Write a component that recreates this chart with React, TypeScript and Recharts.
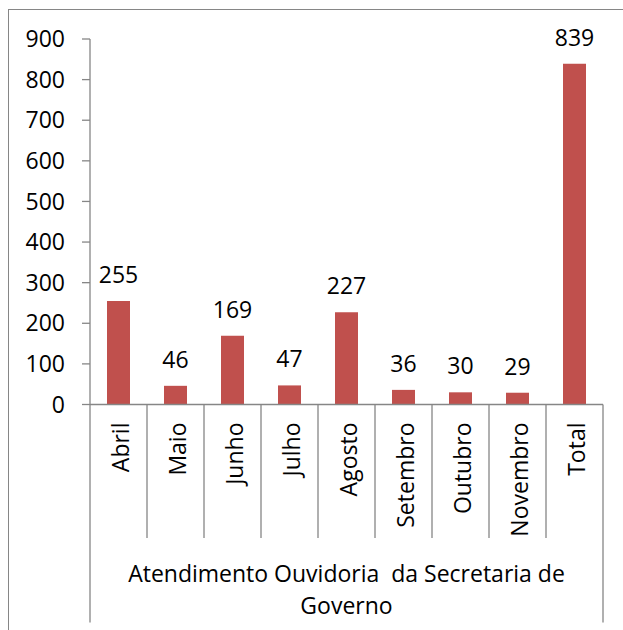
import { BarChart, Bar, XAxis, YAxis, LabelList } from 'recharts';

const meses = ['Abril', 'Maio', 'Junho', 'Julho', 'Agosto', 'Setembro', 'Outubro', 'Novembro', 'Total'];
const atendimentos = [255, 46, 169, 47, 227, 36, 30, 29, 839];
const yTicks = [0, 100, 200, 300, 400, 500, 600, 700, 800, 900];
const grupo = ['Atendimento Ouvidoria  da Secretaria de', 'Governo'];

const data = meses.map((m, i) => ({ mes: m, valor: atendimentos[i] }));

const W = 623;
const H = 630;
const LEFT = 90;
const RIGHT = 603;
const FONT = '"Open Sans", sans-serif';
const GRAY = '#868686';
const STEP = (RIGHT - LEFT) / meses.length;

function MesTick(props: any) {
  const { x, y, payload, index } = props;
  const left = x - STEP / 2;
  const last = index === meses.length - 1;
  return (
    <g>
      <line x1={left} x2={left} y1={y} y2={index === 0 ? y + 218 : y + 133.5} stroke={GRAY} strokeWidth={1.3} />
      {last && <line x1={left + STEP} x2={left + STEP} y1={y} y2={y + 218} stroke={GRAY} strokeWidth={1.3} />}
      <text
        x={x}
        y={y + 18}
        dy={10.5}
        transform={`rotate(-90 ${x} ${y + 18})`}
        textAnchor="end"
        fontFamily={FONT}
        fontSize={23}
        fill="#000"
      >
        {payload.value}
      </text>
      {index === 0 && (
        <text x={(LEFT + RIGHT) / 2} textAnchor="middle" fontFamily={FONT} fontSize={23} fill="#000" style={{ whiteSpace: 'pre' }}>
          <tspan x={(LEFT + RIGHT) / 2} y={y + 177}>{grupo[0]}</tspan>
          <tspan x={(LEFT + RIGHT) / 2} y={y + 209}>{grupo[1]}</tspan>
        </text>
      )}
    </g>
  );
}

export default function App() {
  return (
    <div style={{ position: 'fixed', left: 0, top: 0, width: W, height: H, overflow: 'hidden', background: '#fff' }}>
      <div
        style={{
          position: 'absolute',
          left: 8,
          top: 9,
          width: 700,
          height: 700,
          borderLeft: `1px solid ${GRAY}`,
          borderTop: `1px solid ${GRAY}`,
        }}
      />
      <div style={{ position: 'absolute', left: 0, top: 0 }}>
        <BarChart width={W} height={H} data={data} margin={{ top: 39, right: W - RIGHT, bottom: 0, left: 0 }}>
          <YAxis
            width={LEFT}
            domain={[0, 900]}
            ticks={yTicks}
            interval={0}
            axisLine={{ stroke: GRAY, strokeWidth: 1.3 }}
            tickLine={{ stroke: GRAY, strokeWidth: 1.3 }}
            tickSize={8}
            tickMargin={17}
            tick={{ fill: '#000', fontFamily: FONT, fontSize: 23 }}
          />
          <XAxis
            dataKey="mes"
            height={225.5}
            interval={0}
            axisLine={{ stroke: GRAY, strokeWidth: 1.3 }}
            tickLine={false}
            tickSize={0}
            tickMargin={0}
            tick={<MesTick />}
          />
          <Bar dataKey="valor" fill="#C0504D" barSize={23} isAnimationActive={false}>
            <LabelList dataKey="valor" position="top" offset={18} fill="#000" fontFamily={FONT} fontSize={23} />
          </Bar>
        </BarChart>
      </div>
    </div>
  );
}
